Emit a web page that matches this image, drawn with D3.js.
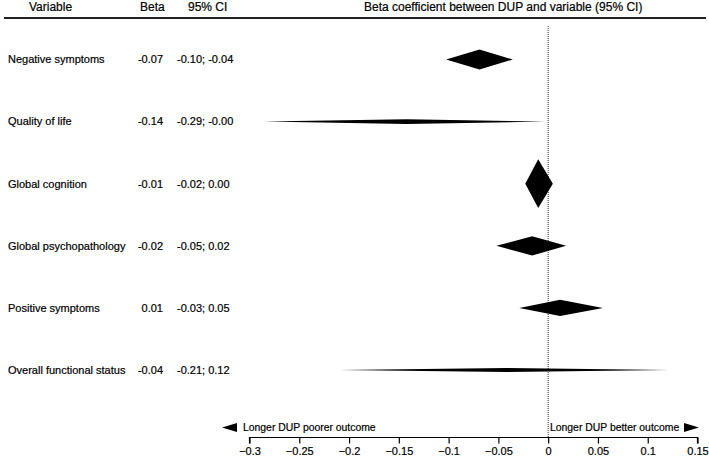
<!DOCTYPE html>
<html>
<head>
<meta charset="utf-8">
<script src="https://cdn.jsdelivr.net/npm/d3@7"></script>
<style>
  html, body { margin: 0; padding: 0; background: #fff; }
  svg text { font-family: Arial, "Liberation Sans", sans-serif; font-size: 11px; fill: #000; stroke: #000; stroke-width: 0.2px; }
</style>
</head>
<body>
<svg id="chart" width="709" height="462"></svg>
<script>
// ---- data ----
const variables = ["Negative symptoms", "Quality of life", "Global cognition",
                   "Global psychopathology", "Positive symptoms", "Overall functional status"];
const betas   = [-0.069, -0.142, -0.010, -0.016, 0.012, -0.042];
const ciLow   = [-0.1025, -0.286, -0.023, -0.052, -0.029, -0.209];
const ciHigh  = [-0.0355, -0.003, 0.0047, 0.018, 0.055, 0.121];
const betaLabels = ["-0.07", "-0.14", "-0.01", "-0.02", "0.01", "-0.04"];
const ciLabels   = ["-0.10; -0.04", "-0.29; -0.00", "-0.02; 0.00", "-0.05; 0.02", "-0.03; 0.05", "-0.21; 0.12"];
const xTicks = [-0.3, -0.25, -0.2, -0.15, -0.1, -0.05, 0, 0.05, 0.1, 0.15];
const headers = ["Variable", "Beta", "95% CI", "Beta coefficient between DUP and variable (95% CI)"];
const leftNote = "Longer DUP poorer outcome";
const rightNote = "Longer DUP better outcome";

const rows = variables.map((v, i) => ({ v, b: betas[i], lo: ciLow[i], hi: ciHigh[i], bl: betaLabels[i], cl: ciLabels[i] }));

const svg = d3.select("#chart");
const x = d3.scaleLinear().domain([-0.3, 0.15]).range([249.5, 697.5]);
const y = d3.scalePoint().domain(variables).range([59.5, 370]);
const axisY = 437.5;

// header
const hdr = svg.append("g").style("font-size", "12px");
hdr.append("text").attr("x", 29).attr("y", 11).style("font-size", "12px").text(headers[0]);
hdr.append("text").attr("x", 140).attr("y", 11).style("font-size", "12px").text(headers[1]);
hdr.append("text").attr("x", 188).attr("y", 11).style("font-size", "12px").text(headers[2]);
hdr.append("text").attr("x", 364).attr("y", 11).style("font-size", "12px").text(headers[3]);
hdr.append("line").attr("x1", 4).attr("x2", 706).attr("y1", 18).attr("y2", 18)
   .attr("stroke", "#222").attr("stroke-width", 2);

// zero reference line
svg.append("line").attr("x1", x(0)).attr("x2", x(0)).attr("y1", 26).attr("y2", axisY)
   .attr("stroke", "#333").attr("stroke-width", 1).attr("stroke-dasharray", "1,1");

// row texts
const rg = svg.append("g").selectAll("g").data(rows).join("g")
   .attr("transform", d => `translate(0,${y(d.v)})`);
rg.append("text").attr("x", 8).attr("dy", "0.35em").text(d => d.v);
rg.append("text").attr("x", 163).attr("text-anchor", "end").attr("dy", "0.35em").text(d => d.bl);
rg.append("text").attr("x", 177).attr("dy", "0.35em").text(d => d.cl);

// diamonds: height inversely proportional to CI width (precision)
rg.append("path")
  .attr("fill", "#000")
  .attr("d", d => {
    const h = 0.675 / (d.hi - d.lo);
    return `M${x(d.lo)},0 L${x(d.b)},${-h} L${x(d.hi)},0 L${x(d.b)},${h} Z`;
  });

// axis
const axis = d3.axisBottom(x).tickValues(xTicks).tickSize(6).tickPadding(4)
  .tickFormat(d => d3.format("")(+d.toFixed(2)));
const ag = svg.append("g").attr("transform", `translate(0,${axisY})`).call(axis);
ag.select(".domain").attr("stroke", "#000").attr("stroke-width", 1.2)
  .attr("d", `M${x(-0.3)},6V0H${x(0.15)}V6`);
ag.selectAll(".tick line").attr("stroke", "#000").attr("stroke-width", 1.2);
ag.selectAll(".tick text").style("font-size", "11px").style("font-family", "Arial, 'Liberation Sans', sans-serif").attr("fill", "#000");

// direction notes
const ny = 427.5;
svg.append("path").attr("fill", "#000")
   .attr("d", `M${222},${ny} L${237},${ny - 4.5} L${237},${ny + 4.5} Z`);
svg.append("text").attr("x", 243).attr("y", ny).attr("dy", "0.35em").style("font-size", "10.4px").text(leftNote);
svg.append("text").attr("x", 550).attr("y", ny).attr("dy", "0.35em").style("font-size", "10.4px").text(rightNote);
svg.append("path").attr("fill", "#000")
   .attr("d", `M${699},${ny} L${684},${ny - 4.5} L${684},${ny + 4.5} Z`);
</script>
</body>
</html>
